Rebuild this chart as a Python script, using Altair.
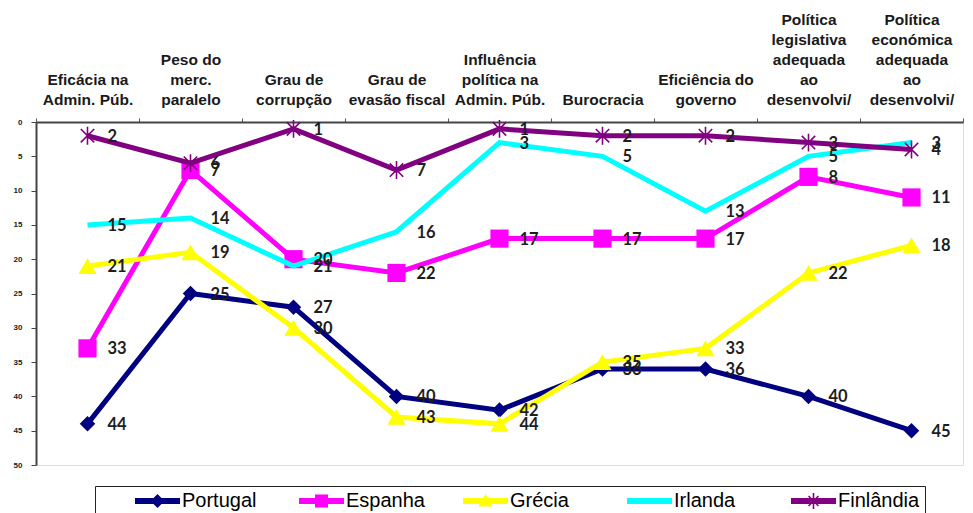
import math
import altair as alt
import pandas as pd

categories = [
    "Eficácia na|Admin. Púb.",
    "Peso do|merc.|paralelo",
    "Grau de|corrupção",
    "Grau de|evasão fiscal",
    "Influência|política na|Admin. Púb.",
    "Burocracia",
    "Eficiência do|governo",
    "Política|legislativa|adequada|ao|desenvolvi/",
    "Política|económica|adequada|ao|desenvolvi/",
]
series_names = ["Portugal", "Espanha", "Grécia", "Irlanda", "Finlândia"]
portugal = [44, 25, 27, 40, 42, 36, 36, 40, 45]
espanha = [33, 7, 20, 22, 17, 17, 17, 8, 11]
grecia = [21, 19, 30, 43, 44, 35, 33, 22, 18]
irlanda = [15, 14, 21, 16, 3, 5, 13, 5, 3]
finlandia = [2, 6, 1, 7, 1, 2, 2, 3, 4]
colors = ["#000080", "#FF00FF", "#FFFF00", "#00FFFF", "#800080"]
y_ticks = [0, 5, 10, 15, 20, 25, 30, 35, 40, 45, 50]

rows = []
for name, vals in zip(series_names, [portugal, espanha, grecia, irlanda, finlandia]):
    for c, v in zip(categories, vals):
        rows.append({"series": name, "cat": c, "value": v})
df = pd.DataFrame(rows)

# ---- marker shapes -------------------------------------------------------
star_path = "M-0.75,-0.75L0.75,0.75M-0.75,0.75L0.75,-0.75M0,-1L0,1"


def rect(x0, y0, x1, y1):
    return f"M{x0},{y0}L{x1},{y0}L{x1},{y1}L{x0},{y1}Z"


def bar(angle_deg, r, w):
    a = math.radians(angle_deg)
    dx, dy = math.cos(a), math.sin(a)
    nx, ny = -dy, dx
    pts = [
        (-r * dx - w * nx, -r * dy - w * ny),
        (r * dx - w * nx, r * dy - w * ny),
        (r * dx + w * nx, r * dy + w * ny),
        (-r * dx + w * nx, -r * dy + w * ny),
    ]
    return "M" + "L".join(f"{p[0]:.3f},{p[1]:.3f}" for p in pts) + "Z"


# legend symbols: 1 unit = 10 px (symbolSize 400); line spans 45 px
line_part = rect(-2.25, -0.3, 2.25, 0.3)
legend_paths = [
    line_part + "M0,-0.7L0.7,0L0,0.7L-0.7,0Z",
    line_part + rect(-0.65, -0.65, 0.65, 0.65),
    line_part + "M0,-0.7L0.7,0.55L-0.7,0.55Z",
    line_part,
    line_part + bar(45, 0.7, 0.08) + bar(135, 0.7, 0.08) + bar(90, 0.8, 0.08),
]

markers = {
    "Portugal": dict(shape="diamond", filled=True, size=240),
    "Espanha": dict(shape="square", filled=True, size=330),
    "Grécia": dict(shape="triangle-up", filled=True, size=330),
    "Finlândia": dict(shape=star_path, filled=False, size=320, strokeWidth=1.6),
}

# pad every header to five lines (invisible zero-width lines on top) so all bottoms align
pad_unit = "\u200b|"
label_expr = (
    f"split(slice('{pad_unit * 4}', 0, 2 * (5 - length(split(datum.label, '|')))) + datum.label, '|')"
)

x_enc = alt.X(
    "cat:N",
    sort=categories,
    title=None,
    scale=alt.Scale(type="band", paddingInner=0, paddingOuter=0),
    axis=alt.Axis(
        orient="top",
        labelExpr=label_expr,
        labelAngle=0,
        labelFont="Liberation Sans",
        labelFontSize=15.5,
        labelFontWeight="bold",
        labelColor="#1a1a1a",
        labelLineHeight=20,
        labelBaseline="top",
        labelPadding=106,
        labelOverlap=False,
        labelLimit=200,
        tickBand="extent",
        tickSize=4,
        tickColor="#555555",
        domainColor="#444444",
        domainWidth=2,
    ),
)
y_enc = alt.Y(
    "value:Q",
    title=None,
    scale=alt.Scale(domain=[0, 50], reverse=True, nice=False, zero=False),
    axis=alt.Axis(
        values=y_ticks,
        labelFont="Liberation Sans",
        labelFontSize=8,
        labelFontWeight="bold",
        labelColor="#222222",
        tickSize=5,
        tickColor="#444444",
        labelPadding=9,
        domainColor="#444444",
        domainWidth=2,
        grid=False,
    ),
)

base = alt.Chart(df).encode(x=x_enc, y=y_enc)

layers = []
for i, name in enumerate(series_names):
    sub = base.transform_filter(alt.datum.series == name)
    layers.append(sub.mark_line(strokeWidth=5, color=colors[i]))
    if name in markers:
        m = markers[name]
        layers.append(
            sub.mark_point(
                shape=m["shape"],
                filled=m["filled"],
                size=m["size"],
                color=colors[i],
                opacity=1,
                strokeWidth=m.get("strokeWidth", 1),
            )
        )

labels = base.mark_text(
    align="left",
    baseline="middle",
    dx=20,
    dy=1,
    font="Lato",
    fontSize=16.5,
    fontWeight="bold",
    color="#1e1e1e",
).encode(text="value:Q")
layers.append(labels)

legend = alt.Legend(
    title=None,
    orient="none",
    legendX=59,
    legendY=364,
    direction="horizontal",
    columns=5,
    gridAlign="all",
    columnPadding=0,
    symbolOffset=47.5,
    symbolSize=400,
    symbolOpacity=1,
    symbolStrokeWidth=0,
    labelFont="Liberation Sans",
    labelFontSize=20,
    labelColor="#000000",
    labelOffset=14.5,
    fillColor="#ffffff",
    strokeColor="#222222",
    padding=5,
)
legend_layer = base.mark_point(filled=True, opacity=0, size=1).encode(
    color=alt.Color("series:N", scale=alt.Scale(domain=series_names, range=colors), legend=legend),
    shape=alt.Shape("series:N", scale=alt.Scale(domain=series_names, range=legend_paths), legend=legend),
)
layers.append(legend_layer)

chart = (
    alt.layer(*layers)
    .properties(width=927, height=343, padding={"left": 5, "top": 4, "right": 0, "bottom": 0})
    .configure_view(fill="#C0C0C0", stroke="#888888", strokeWidth=1.5)
    .configure(background="#ffffff")
)

chart.save("out.html", embed_options={"renderer": "svg", "actions": False})
